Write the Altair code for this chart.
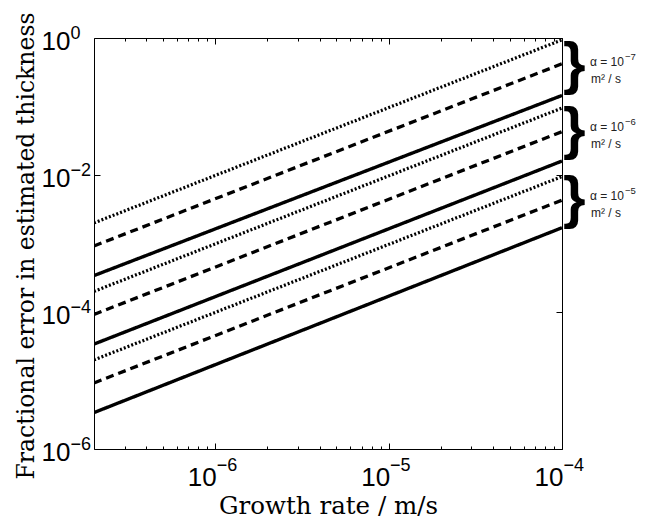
import altair as alt
import pandas as pd

# ---- data ----
growth_rate = [2e-7, 1e-4]                      # x extent of every line (m/s)
alpha_groups = ["1e-5", "1e-6", "1e-7"]          # diffusivity groups (m^2/s)
line_styles = ["solid", "dashed", "dotted"]

solid_start = [3.4e-6, 3.4e-5, 3.4e-4]
solid_end = [1.7e-3, 1.6e-2, 0.145]
dashed_start = [9.2e-6, 9.2e-5, 9.2e-4]
dashed_end = [4.3e-3, 0.043, 0.42]
dotted_start = [2.0e-5, 2.0e-4, 2.0e-3]
dotted_end = [9.5e-3, 0.095, 0.94]

x_major = [1e-6, 1e-5, 1e-4]
x_exponents = ["−6", "−5", "−4"]
y_major = [1e-6, 1e-4, 1e-2, 1.0]
y_exponents = ["−6", "−4", "−2", "0"]
mantissas = [2, 3, 4, 5, 6, 7, 8, 9]
x_minor = [m * d for d in [1e-7, 1e-6, 1e-5] for m in mantissas if 2e-7 < m * d < 1e-4]

brace_centers = [0.0041, 0.041, 0.37]
brace_alpha_base = ["α = 10", "α = 10", "α = 10"]
brace_alpha_exp = ["−5", "−6", "−7"]
brace_unit_text = ["m² / s", "m² / s", "m² / s"]

# ---- build table ----
starts = {"solid": solid_start, "dashed": dashed_start, "dotted": dotted_start}
ends = {"solid": solid_end, "dashed": dashed_end, "dotted": dotted_end}
rows = []
for gi, g in enumerate(alpha_groups):
    for s in line_styles:
        lid = f"{g}-{s}"
        rows.append({"growth": growth_rate[0], "error": starts[s][gi], "style": s, "line": lid})
        rows.append({"growth": growth_rate[1], "error": ends[s][gi], "style": s, "line": lid})
df = pd.DataFrame(rows)

braces = pd.DataFrame({"center": brace_centers, "alpha": brace_alpha_base,
                       "exp": brace_alpha_exp, "unit": brace_unit_text})

W, H = 468, 411
xscale = alt.Scale(type="log", domain=[2e-7, 1e-4], nice=False)
yscale = alt.Scale(type="log", domain=[1e-6, 1.0], nice=False)

def label_expr(values, labels):
    pairs = sorted(zip(values, labels), reverse=True)
    expr = f"'{pairs[0][1]}'"
    for v, lab in pairs[1:]:
        expr = f"datum.value < {v * 1.5} ? '{lab}' : ({expr})"
    return expr

LABEL_FONT = "Liberation Sans"
TITLE_FONT = "DejaVu Serif"

x_base_axis = alt.Axis(
    orient="bottom", values=x_major, labelExpr="'10'",
    ticks=False, tickSize=0, domain=False, grid=False,
    labelFont=LABEL_FONT, labelFontSize=26, labelColor="black", labelPadding=15,
    labelAlign="right", labelOffset=1,
    title="Growth rate / m/s", titleFont=TITLE_FONT, titleFontSize=24.5, titleFontWeight="normal",
    titleColor="black", titleY=64, titleBaseline="alphabetic",
)
y_base_axis = alt.Axis(
    orient="left", values=y_major, labelExpr="'10'",
    ticks=False, tickSize=0, domain=False, grid=False,
    labelFont=LABEL_FONT, labelFontSize=26, labelColor="black", labelPadding=24, labelOffset=3,
    labelAlign="right", labelBaseline="middle",
    title="Fractional error in estimated thickness", titleFont=TITLE_FONT, titleFontSize=23.5,
    titleFontWeight="normal", titleColor="black", titleX=-61, titleY=H / 2 + 2,
    titleAngle=-90, titleBaseline="alphabetic", titleAlign="center",
)
x_exp_axis = alt.Axis(
    orient="bottom", values=x_major, labelExpr=label_expr(x_major, x_exponents),
    ticks=False, tickSize=0, domain=False, grid=False, title=None,
    labelFont=LABEL_FONT, labelFontSize=18, labelColor="black", labelPadding=7,
    labelAlign="left", labelOffset=1,
)
y_exp_axis = alt.Axis(
    orient="left", values=y_major, labelExpr=label_expr(y_major, y_exponents),
    ticks=False, tickSize=0, domain=False, grid=False, title=None,
    labelFont=LABEL_FONT, labelFontSize=18, labelColor="black", labelPadding=24, labelOffset=-5,
    labelAlign="left", labelBaseline="middle",
)

lines = alt.Chart(df).mark_line(clip=True).encode(
    x=alt.X("growth:Q", scale=xscale, axis=x_base_axis),
    y=alt.Y("error:Q", scale=yscale, axis=y_base_axis),
    detail="line:N",
    color=alt.value("black"),
    strokeDash=alt.StrokeDash("style:N", scale=alt.Scale(domain=line_styles, range=[[1, 0], [8, 5], [2, 2]]), legend=None),
    strokeWidth=alt.StrokeWidth("style:O", scale=alt.Scale(domain=line_styles, range=[3.4, 3.2, 2.6]), legend=None),
)

def tick_axis(orient, values, size):
    return alt.Axis(orient=orient, values=values, labels=False, domain=False, grid=False,
                    ticks=True, tickSize=size, tickColor="black", tickWidth=1,
                    offset=-size, title=None)

def axis_layer(xaxis, yaxis):
    return alt.Chart(df).mark_point(opacity=0).encode(
        x=alt.X("growth:Q", scale=xscale, axis=xaxis),
        y=alt.Y("error:Q", scale=yscale, axis=yaxis),
    )

exps = axis_layer(x_exp_axis, y_exp_axis)
t1 = axis_layer(tick_axis("bottom", x_major, 6), tick_axis("left", y_major, 6))
t2 = axis_layer(tick_axis("bottom", x_minor, 3), None)
t3 = axis_layer(tick_axis("top", x_major, 6), tick_axis("right", y_major, 6))
t4 = axis_layer(tick_axis("top", x_minor, 3), None)

brace_marks = alt.Chart(braces).mark_text(
    text="}", font="Liberation Sans", fontSize=58, fontWeight="bold",
    align="left", baseline="middle", dy=-2, color="black",
).encode(x=alt.value(W + 1), y=alt.Y("center:Q", scale=yscale, axis=None))

alpha_text = alt.Chart(braces).mark_text(
    font=LABEL_FONT, fontSize=12, align="left", baseline="middle", dy=-6, color="#222",
).encode(x=alt.value(W + 28), y=alt.Y("center:Q", scale=yscale, axis=None), text="alpha:N")

alpha_exp = alt.Chart(braces).mark_text(
    font=LABEL_FONT, fontSize=9.5, align="left", baseline="middle", dy=-11, color="#222",
).encode(x=alt.value(W + 63), y=alt.Y("center:Q", scale=yscale, axis=None), text="exp:N")

unit_text = alt.Chart(braces).mark_text(
    font=LABEL_FONT, fontSize=12, align="left", baseline="middle", dy=11, color="#222",
).encode(x=alt.value(W + 29), y=alt.Y("center:Q", scale=yscale, axis=None), text="unit:N")

chart = alt.layer(lines, exps, t1, t2, t3, t4, brace_marks, alpha_text, alpha_exp, unit_text).resolve_axis(
    x="independent", y="independent"
).properties(
    width=W, height=H,
    padding={"left": 86, "top": 30, "right": 80, "bottom": 70},
    autosize=alt.AutoSizeParams(type="none"),
    background="white",
).configure_view(stroke="black", strokeWidth=1)

chart.save("out.html", embed_options={"renderer": "svg", "actions": False})
